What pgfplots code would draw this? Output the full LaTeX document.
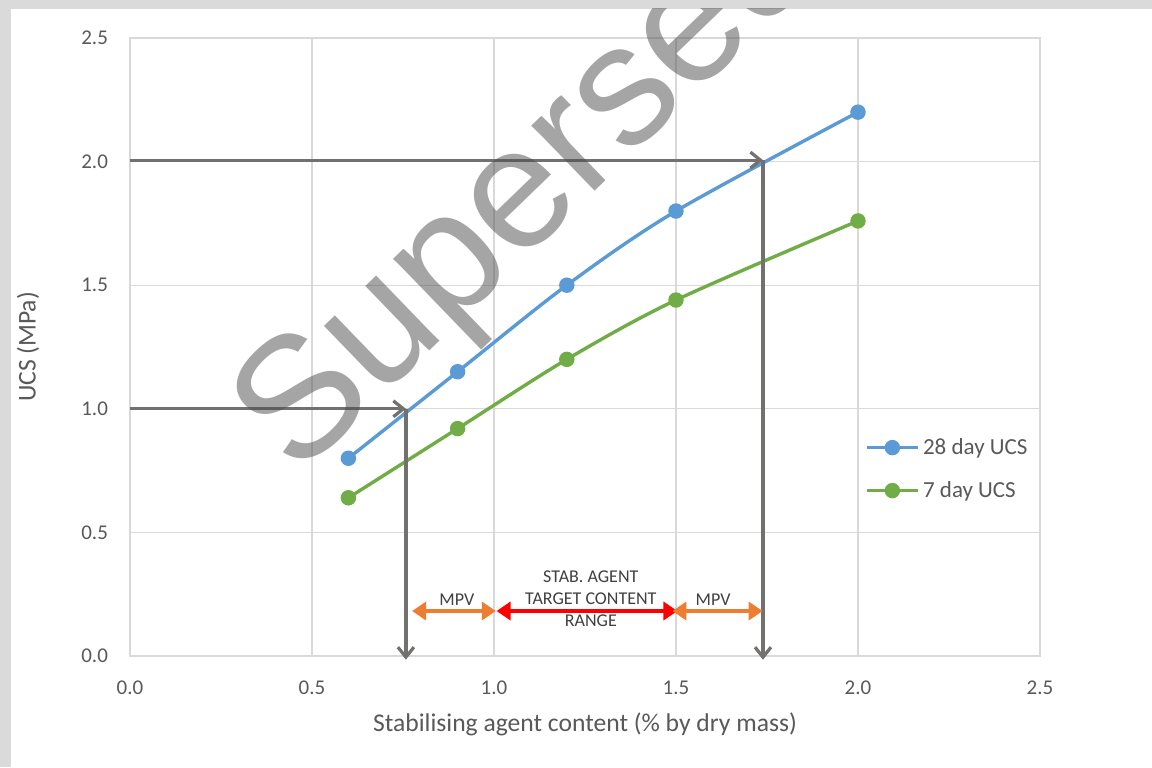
\documentclass[border=0pt]{standalone}
\usepackage{pgfplots}
\pgfplotsset{compat=1.18}
\usepackage{fontspec}
\setmainfont{Carlito}
\newfontfamily\wmfont{Liberation Sans}
\usetikzlibrary{arrows.meta}
\definecolor{ucsblue}{HTML}{5B9BD5}
\definecolor{ucsgreen}{HTML}{70AD47}
\definecolor{mpvorange}{HTML}{ED7D31}
\definecolor{arrowgray}{HTML}{737070}
\definecolor{framegray}{HTML}{D9D9D9}
\definecolor{ticktext}{HTML}{595959}
\definecolor{pagegray}{HTML}{DADADA}

\begin{document}
\begin{tikzpicture}
\useasboundingbox (-65pt,-55.5pt) rectangle (511pt,328pt);
\fill[pagegray] (-65pt,-55.5pt) rectangle (511pt,328pt);
\fill[white] (-59.5pt,-55.5pt) rectangle (511pt,323.5pt);
\begin{axis}[
  at={(0,0)}, anchor=south west,
  scale only axis, width=455pt, height=309pt,
  xmin=0, xmax=2.5, ymin=0, ymax=2.5,
  clip=false,
  xtick={0,0.5,1,1.5,2,2.5}, ytick={0,0.5,1,1.5,2,2.5},
  grid=major,
  major grid style={draw=framegray, line width=0.6pt},
  axis line style={draw=framegray, line width=0.6pt},
  major tick length=0pt,
  tick label style={font=\fontsize{10.5}{12}\selectfont, text=ticktext},
  xticklabel style={yshift=-9pt},
  yticklabel style={xshift=-7.5pt},
  /pgf/number format/.cd, fixed, fixed zerofill, precision=1, assume math mode=true, /pgfplots/.cd,
  xlabel={Stabilising agent content (\% by dry mass)},
  ylabel={UCS (MPa)},
  label style={font=\fontsize{12.8}{14}\selectfont, text=ticktext},
  xlabel style={at={(axis description cs:0.5,-0.11)}, anchor=center},
  ylabel style={at={(axis description cs:-0.112,0.5)}, anchor=center},
  legend style={draw=none, fill=none, at={(axis cs:2.02,0.756)}, anchor=west,
    font=\fontsize{11.5}{13}\selectfont, text=ticktext, row sep=8pt,
    inner sep=0pt},
  legend cell align=left,
  legend image code/.code={\draw[mark repeat=2, mark phase=2] plot coordinates {(0pt,0pt) (12.5pt,0pt) (25pt,0pt)};},
]
% data series
\addplot[ucsblue, line width=1.7pt, smooth, mark=*, mark size=3pt, mark options={solid}]
  coordinates {(0.6,0.8) (0.9,1.15) (1.2,1.5) (1.5,1.8) (2.0,2.2)};
\addlegendentry{28 day UCS}
\addplot[ucsgreen, line width=1.7pt, smooth, mark=*, mark size=3pt, mark options={solid}]
  coordinates {(0.6,0.64) (0.9,0.92) (1.2,1.2) (1.5,1.44) (2.0,1.76)};
\addlegendentry{7 day UCS}
% read-off arrows
\addplot[arrowgray, line width=1.6pt, -{Straight Barb[length=5pt, width=8pt]}, forget plot]
  coordinates {(0,1.0) (0.758,1.0)};
\addplot[arrowgray, line width=1.6pt, -{Straight Barb[length=5pt, width=8pt]}, forget plot]
  coordinates {(0.758,1.0) (0.758,-0.015)};
\addplot[arrowgray, line width=1.6pt, -{Straight Barb[length=5pt, width=8pt]}, forget plot]
  coordinates {(0,2.006) (1.739,2.006)};
\addplot[arrowgray, line width=1.6pt, -{Straight Barb[length=5pt, width=8pt]}, forget plot]
  coordinates {(1.739,2.006) (1.739,-0.015)};
% target range arrows
\addplot[mpvorange, line width=1.8pt, {Triangle[length=7pt, width=9pt]}-{Triangle[length=7pt, width=9pt]}, forget plot]
  coordinates {(0.775,0.182) (1.005,0.182)};
\addplot[red, line width=1.8pt, {Triangle[length=7pt, width=9pt]}-{Triangle[length=7pt, width=9pt]}, forget plot]
  coordinates {(1.007,0.182) (1.504,0.182)};
\addplot[mpvorange, line width=1.8pt, {Triangle[length=7pt, width=9pt]}-{Triangle[length=7pt, width=9pt]}, forget plot]
  coordinates {(1.49,0.182) (1.738,0.182)};
\node[font=\fontsize{9}{11}\selectfont, text=black!75] at (axis cs:0.898,0.227) {MPV};
\node[font=\fontsize{9}{11}\selectfont, text=black!75] at (axis cs:1.602,0.227) {MPV};
\node[font=\fontsize{9}{11}\selectfont, text=black!75, align=center] at (axis cs:1.266,0.231)
  {STAB. AGENT\\TARGET CONTENT\\RANGE};
\end{axis}
% watermark
\begin{scope}
\clip (-59.5pt,-55.5pt) rectangle (511pt,323.5pt);
\node[rotate=44, anchor=base west, inner sep=0pt, text=black!70, opacity=0.5,
  font=\wmfont\fontsize{86}{90}\selectfont] at (83.5pt,88.5pt) {Superseded};
\end{scope}
\end{tikzpicture}
\end{document}
